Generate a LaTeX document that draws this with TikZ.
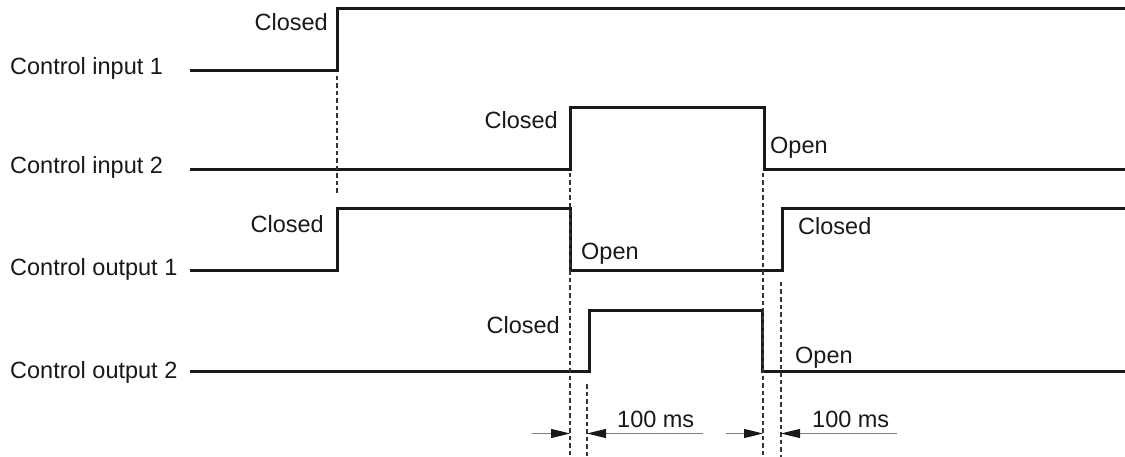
\documentclass[tikz,border=0pt]{standalone}
\usepackage{fontspec}
\setmainfont{Liberation Sans}
\usetikzlibrary{arrows.meta}
\definecolor{ink}{gray}{0.1}
\definecolor{dimgray}{gray}{0.5}
\tikzset{dimtip/.tip={Triangle[length=19pt,width=9pt,color=ink]}}
\begin{document}
\begin{tikzpicture}[x=1pt,y=-1pt,
  sig/.style={line width=3pt,line join=miter,color=ink},
  guide/.style={line width=1.3pt,dash pattern=on 4.5pt off 3pt,color=black!80},
  dim/.style={line width=1.2pt,draw=dimgray,arrows={-dimtip}},
  lbl/.style={inner sep=0pt,font=\fontsize{23.5}{28}\selectfont,text=ink}]
\useasboundingbox[fill=white] (0,0) rectangle (1125,457);
% labels
\node[lbl,anchor=base west] (l1) at (10,75) {Control input 1};
\node[lbl,anchor=base west] (l2) at (10,174) {Control input 2};
\node[lbl,anchor=base west] (l3) at (10,276) {Control output 1};
\node[lbl,anchor=base west] (l4) at (10,378) {Control output 2};
% state labels
\node[lbl,anchor=base east] (c1) at (328,31) {Closed};
\node[lbl,anchor=base east] (c2) at (558,129) {Closed};
\node[lbl,anchor=base west] (o2) at (770,154) {Open};
\node[lbl,anchor=base east] (c3) at (324,233) {Closed};
\node[lbl,anchor=base west] (o3) at (581,260) {Open};
\node[lbl,anchor=base west] (c3b) at (798,235) {Closed};
\node[lbl,anchor=base east] (c4) at (560,333) {Closed};
\node[lbl,anchor=base west] (o4) at (795,363) {Open};
\node[lbl,anchor=base west] (t1) at (617,427) {100 ms};
\node[lbl,anchor=base west] (t2) at (812,427) {100 ms};
% signals
\draw[sig] (190,70.5) -- (337,70.5) -- (337,8.5) -- (1125,8.5);
\draw[sig] (190,170) -- (570,170) -- (570,108) -- (764,108) -- (764,170) -- (1125,170);
\draw[sig] (190,271) -- (337,271) -- (337,209) -- (570,209) -- (570,271) -- (782,271) -- (782,209) -- (1125,209);
\draw[sig] (190,371) -- (589,371) -- (589,310) -- (762,310) -- (762,371) -- (1125,371);
% guide lines
\coordinate (g1a) at (337,76); \coordinate (g1b) at (337,196);
\coordinate (g2a) at (570,173); \coordinate (g2b) at (570,457);
\coordinate (g3a) at (587,384); \coordinate (g3b) at (587,457);
\coordinate (g4a) at (763,173); \coordinate (g4b) at (763,457);
\coordinate (g5a) at (781,282); \coordinate (g5b) at (781,457);
\draw[guide] (g1a) -- (g1b);
\draw[guide] (g2a) -- (g2b);
\draw[guide] (g3a) -- (g3b);
\draw[guide] (g4a) -- (g4b);
\draw[guide] (g5a) -- (g5b);
% dimension arrows
\coordinate (d1s) at (532,433.5); \coordinate (d1e) at (570,433.5);
\coordinate (d2s) at (703,433.5); \coordinate (d2e) at (587,433.5);
\coordinate (d3s) at (726,433.5); \coordinate (d3e) at (763,433.5);
\coordinate (d4s) at (897,433.5); \coordinate (d4e) at (781,433.5);
\draw[dim] (d1s) -- (d1e);
\draw[dim] (d2s) -- (d2e);
\draw[dim] (d3s) -- (d3e);
\draw[dim] (d4s) -- (d4e);
\end{tikzpicture}
\end{document}
